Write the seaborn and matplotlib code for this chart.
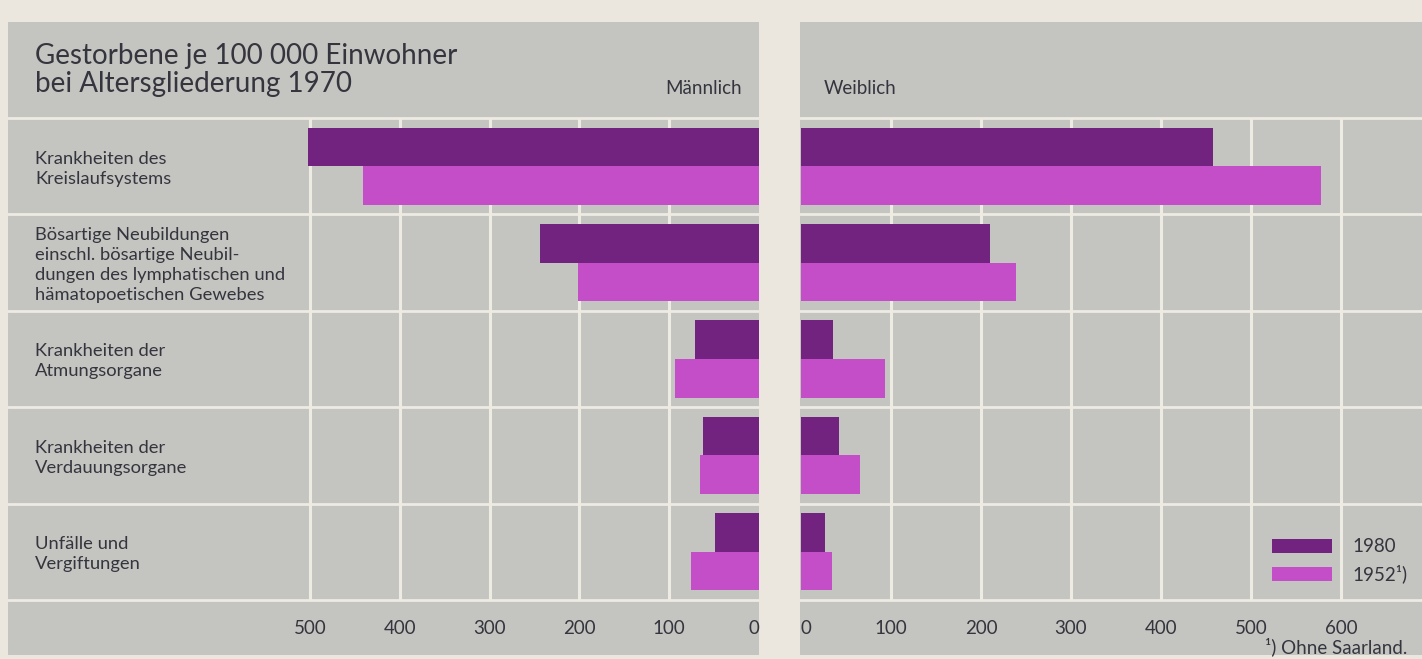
import pandas as pd
import matplotlib.pyplot as plt
import seaborn as sns

# data (deaths per 100 000)
categories = [
    "Krankheiten des\nKreislaufsystems",
    "Bösartige Neubildungen\neinschl. bösartige Neubil-\ndungen des lymphatischen und\nhämatopoetischen Gewebes",
    "Krankheiten der\nAtmungsorgane",
    "Krankheiten der\nVerdauungsorgane",
    "Unfälle und\nVergiftungen",
]
years = ["1980", "1952¹)"]
maennlich_1980 = [502, 244, 71, 62, 49]
maennlich_1952 = [441, 202, 93, 66, 76]
weiblich_1980 = [458, 210, 36, 42, 27]
weiblich_1952 = [578, 239, 93, 66, 34]
ticks_m = [500, 400, 300, 200, 100, 0]
ticks_w = [0, 100, 200, 300, 400, 500, 600]

#colours
BG = "#ebe7de"
PANEL = "#c4c4c1"
LINE = "#eeebe3"
TXT = "#34353d"
palette = {years[0]: "#72237f", years[1]: "#c34ec7"}

sns.set_theme(style="white")
plt.rcParams["font.family"] = ["Lato", "DejaVu Sans"]


def long_df(v80, v52):
    return pd.DataFrame({
        "cat": categories * 2,
        "year": [years[0]] * 5 + [years[1]] * 5,
        "val": v80 + v52,
    })


fig = plt.figure(figsize=(14.22, 6.59), dpi=100, facecolor=BG)
ax_m = fig.add_axes([8 / 1422, 4 / 659, 751 / 1422, 633 / 659])
ax_w = fig.add_axes([800 / 1422, 4 / 659, 622 / 1422, 633 / 659])

y_top, y_bot = -1.496, 5.07

for ax, df, ticks, xlim, zero_ha in [
    (ax_m, long_df(maennlich_1980, maennlich_1952), ticks_m, (836, 0), "right"),
    (ax_w, long_df(weiblich_1980, weiblich_1952), ticks_w, (-1.1, 690), "left"),
]:
    ax.set_facecolor(PANEL)
    sns.barplot(data=df, y="cat", x="val", hue="year", hue_order=years,
                palette=palette, orient="h", width=0.8, saturation=1,
                linewidth=0, errorbar=None, ax=ax, zorder=3)
    ax.set_xlim(*xlim)
    ax.set_ylim(y_bot, y_top)
    # row separators and value grid
    for i in range(6):
        ax.axhline(i - 0.5, color=LINE, lw=2, zorder=1)
    for t in ticks:
        if t != 0:
            ax.vlines(t, -0.5, 4.5, color=LINE, lw=2.2, zorder=1)
        ax.text(t, 4.5 + 0.29, str(t), ha=zero_ha if t == 0 else "center",
                va="center", fontsize=13.5, color=TXT)
    ax.set_xticks([])
    ax.set_yticks([])
    ax.set_xlabel("")
    ax.set_ylabel("")
    for s in ax.spines.values():
        s.set_visible(False)

# category labels
for i, c in enumerate(categories):
    ax_m.text(806, i + 0.025, c, ha="left", va="center", fontsize=13.2,
              color=TXT, linespacing=1.3)

ax_m.text(806, -1.0, "Gestorbene je 100 000 Einwohner\nbei Altersgliederung 1970",
          ha="left", va="center", fontsize=20, fontweight="normal",
          color=TXT, linespacing=1.12)
ax_m.text(19, -0.81, "Männlich", ha="right", va="center", fontsize=13.5, color=TXT)
ax_w.text(25, -0.81, "Weiblich", ha="left", va="center", fontsize=13.5, color=TXT)

ax_m.get_legend().remove()
leg = ax_w.legend(loc="lower right", bbox_to_anchor=(1417 / 1422, 66 / 659),
                  bbox_transform=fig.transFigure, frameon=False,
                  fontsize=13.5, handlelength=3.2, handleheight=0.75,
                  labelspacing=0.5, handletextpad=1.1, borderpad=0)
for t in leg.get_texts():
    t.set_color(TXT)

fig.text(1407 / 1422, 12 / 659, "¹) Ohne Saarland.", ha="right", va="center",
         fontsize=13.5, color=TXT)

fig.savefig("out.png", dpi=100, facecolor=BG)
